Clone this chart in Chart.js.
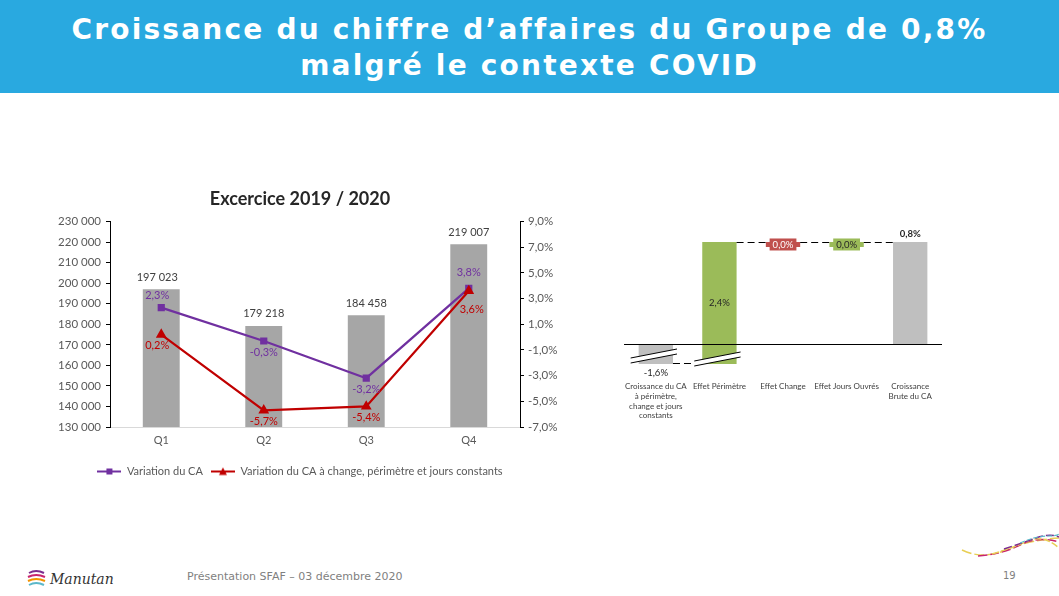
<!DOCTYPE html>
<html lang="fr">
<head>
<meta charset="utf-8">
<title>Croissance du chiffre d'affaires</title>
<script src="https://cdn.jsdelivr.net/npm/chart.js@4.4.1/dist/chart.umd.min.js"></script>
<style>
  html, body { margin: 0; padding: 0; width: 1059px; height: 596px; overflow: hidden; background: #fff; }
  body { position: relative; font-family: "DejaVu Sans", sans-serif; }
  #banner { position: absolute; left: 0; top: 0; width: 1059px; height: 93px; background: #29A9E0;
            color: #fff; text-align: center; font-size: 28px; font-weight: bold; letter-spacing: 2.2px;
            line-height: 36px; padding-top: 12px; box-sizing: border-box; }
  #leftChart { position: absolute; left: 40px; top: 180px; }
  #rightChart { position: absolute; left: 606px; top: 220px; }
  #footer { position: absolute; left: 187px; top: 570px; font-size: 11px; color: #7f7f7f; }
  #page { position: absolute; left: 1003px; top: 570px; font-size: 10px; color: #7f7f7f; }
  #logo { position: absolute; left: 26px; top: 566px; }
  #swoosh { position: absolute; left: 958px; top: 528px; }
</style>
</head>
<body>
<div id="banner">Croissance du chiffre d’affaires du Groupe de 0,8%<br>malgré le contexte COVID</div>

<canvas id="leftChart" width="520" height="307"></canvas>
<canvas id="rightChart" width="346" height="210"></canvas>

<svg id="logo" width="100" height="26">
  <path d="M3 7 Q10 3 18 7" stroke="#7B2D8E" stroke-width="2" fill="none"/>
  <path d="M2 11 Q10 7 19 11" stroke="#C8246E" stroke-width="2" fill="none"/>
  <path d="M2 15 Q10 11 19 15" stroke="#F39200" stroke-width="2" fill="none"/>
  <path d="M3 19 Q10 15 18 19" stroke="#5BB8C9" stroke-width="2" fill="none"/>
  <text x="24" y="18" font-family="DejaVu Serif" font-style="italic" font-size="14" fill="#333">Manutan</text>
</svg>
<svg id="swoosh" width="101" height="34">
  <path d="M4 22 Q25 32 48 22 T101 10" stroke="#E8CF55" stroke-width="1.5" fill="none" stroke-dasharray="10 3"/>
  <path d="M20 28 Q45 26 62 17 T101 14" stroke="#C8246E" stroke-width="1.5" fill="none" stroke-dasharray="9 3"/>
  <path d="M34 26 Q55 20 70 13 T101 20" stroke="#E8CF55" stroke-width="1.5" fill="none" stroke-dasharray="7 2"/>
  <path d="M46 21 Q64 15 78 10 T101 9" stroke="#7B2D8E" stroke-width="1.5" fill="none" stroke-dasharray="8 3"/>
  <path d="M62 15 Q78 8 90 8 T101 5" stroke="#5BB8C9" stroke-width="1.2" fill="none" stroke-dasharray="5 2"/>
</svg>

<div id="footer">Présentation SFAF – 03 décembre 2020</div>
<div id="page">19</div>

<script>
// Données - graphique de gauche
const quarters = ['Q1', 'Q2', 'Q3', 'Q4'];
const caValues = [197023, 179218, 184458, 219007];
const variationCA = [2.3, -0.3, -3.2, 3.8];
const variationConstant = [0.2, -5.7, -5.4, 3.6];
const caAxis = { min: 130000, max: 230000, step: 10000 };
const pctAxis = { min: -7, max: 9, step: 2 };

// Données - cascade de droite
const steps = [['Croissance du CA', 'à périmètre,', 'change et jours', 'constants'], 'Effet Périmètre', 'Effet Change', 'Effet Jours Ouvrés', ['Croissance', 'Brute du CA']];
const stepValues = [-1.6, 2.4, 0.0, 0.0, 0.8];
const stepKinds = ['total', 'delta', 'delta', 'delta', 'total'];

const fmtThousands = v => String(v).replace(/\B(?=(\d{3})+(?!\d))/g, ' ');
const fmtPct = v => v.toFixed(1).replace('.', ',') + '%';

//petite icône ligne + marqueur pour la légende
function legendIcon(color, shape) {
    const c = document.createElement('canvas');
    c.width = 24; c.height = 10;
    const g = c.getContext('2d');
    g.strokeStyle = color; g.fillStyle = color; g.lineWidth = 2;
    g.beginPath(); g.moveTo(0, 5); g.lineTo(24, 5); g.stroke();
    if (shape === 'rect') {
        g.fillRect(9, 2, 6, 6);
    } else {
        g.beginPath(); g.moveTo(12, 1); g.lineTo(16, 8.5); g.lineTo(8, 8.5); g.closePath(); g.fill();
    }
    return c;
}

// étiquettes de valeurs (pas de plugin datalabels disponible)
const pointLabels = {
    id: 'pointLabels',
    afterDatasetsDraw(chart) {
        const ctx = chart.ctx;
        ctx.save();
        ctx.textAlign = 'center';
        ctx.textBaseline = 'middle';
        chart.data.datasets.forEach((ds, i) => {
            const meta = chart.getDatasetMeta(i);
            if (!ds.labelPlace) return;
            ctx.font = '11px Lato';
            ctx.fillStyle = ds.labelColor;
            meta.data.forEach((el, j) => {
                const place = ds.labelPlace[j];
                let dy = place === 'up' ? -12 : place === 'down' ? 11 : place === 'far' ? 19 : -16;
                let dx = place === 'far' ? 3 : (j === 0 ? -4 : 0);
                const txt = ds.type === 'bar' ? fmtThousands(ds.data[j]) : fmtPct(ds.data[j]);
                ctx.fillText(txt, el.x + dx, el.y + dy);
            });
        });
        ctx.restore();
    }
};

let leftContext = document.getElementById('leftChart');
let leftChart = new Chart(leftContext, {
    type: 'bar',
    data: {
        labels: quarters,
        datasets: [
            {
                type: 'bar',
                label: "Chiffre d'affaires",
                data: caValues,
                backgroundColor: '#A6A6A6',
                barPercentage: 0.36,
                categoryPercentage: 1,
                yAxisID: 'y',
                order: 2,
                labelPlace: ['up', 'up', 'up', 'up'],
                labelColor: '#404040'
            },
            {
                type: 'line',
                label: 'Variation du CA',
                data: variationCA,
                borderColor: '#7030A0',
                backgroundColor: '#7030A0',
                borderWidth: 2.25,
                pointStyle: 'rect',
                pointRadius: 3.5,
                yAxisID: 'y1',
                order: 1,
                labelPlace: ['up', 'down', 'down', 'top'],
                labelColor: '#7030A0'
            },
            {
                type: 'line',
                label: 'Variation du CA à change, périmètre et jours constants',
                data: variationConstant,
                borderColor: '#C00000',
                backgroundColor: '#C00000',
                borderWidth: 2.25,
                pointStyle: 'triangle',
                pointRadius: 4,
                yAxisID: 'y1',
                order: 0,
                labelPlace: ['down', 'down', 'down', 'far'],
                labelColor: '#C00000'
            }
        ]
    },
    options: {
        responsive: false,
        animation: false,
        layout: { padding: 0 },
        plugins: {
            title: {
                display: true,
                text: 'Excercice 2019 / 2020',
                color: '#262626',
                font: { family: 'Lato', size: 18, weight: 'bold' },
                padding: { top: 8, bottom: 12 }
            },
            legend: {
                position: 'bottom',
                labels: {
                    usePointStyle: true,
                    pointStyleWidth: 24,
                    color: '#595959',
                    font: { family: 'Lato', size: 11 },
                    padding: 8,
                    filter: item => item.datasetIndex > 0,
                    sort: (a, b) => a.datasetIndex - b.datasetIndex,
                    generateLabels: chart => {
                        const items = Chart.defaults.plugins.legend.labels.generateLabels(chart);
                        items.forEach(item => {
                            if (item.datasetIndex === 1) item.pointStyle = legendIcon('#7030A0', 'rect');
                            if (item.datasetIndex === 2) item.pointStyle = legendIcon('#C00000', 'tri');
                        });
                        return items;
                    }
                }
            },
            tooltip: { enabled: false }
        },
        scales: {
            x: {
                grid: { display: false, drawTicks: false },
                border: { color: '#D9D9D9' },
                ticks: { color: '#595959', font: { family: 'Lato', size: 11 }, padding: 7 },
                afterFit: s => { s.height = 31; }
            },
            y: {
                position: 'left',
                min: caAxis.min,
                max: caAxis.max,
                ticks: { stepSize: caAxis.step, color: '#595959', font: { family: 'Lato', size: 11.5 }, padding: 5, callback: v => fmtThousands(v) },
                grid: { drawOnChartArea: false, tickLength: 4, color: '#000' },
                border: { color: '#000' },
                afterFit: s => { s.width = 70; }
            },
            y1: {
                position: 'right',
                min: pctAxis.min,
                max: pctAxis.max,
                ticks: { stepSize: pctAxis.step, color: '#595959', font: { family: 'Lato', size: 11.5 }, padding: 4, callback: v => fmtPct(v) },
                grid: { drawOnChartArea: false, tickLength: 4, color: '#000' },
                border: { color: '#000' },
                afterFit: s => { s.width = 40; }
            }
        }
    },
    plugins: [pointLabels]
});

// Cascade : barres flottantes calculées à partir des effets
let running = 0;
const stepRanges = stepValues.map((v, i) => {
    if (stepKinds[i] === 'total') { running = v; return [0, v]; }
    const r = [running, running + v];
    running += v;
    return r;
});
const stepColors = ['#BFBFBF', '#9BBB59', '#C0504D', '#9BBB59', '#BFBFBF'];
const stepLabelModes = ['below', 'inside', 'badge', 'badge', 'above'];

const waterfallDecor = {
    id: 'waterfallDecor',
    afterDatasetsDraw(chart) {
        const ctx = chart.ctx;
        const area = chart.chartArea;
        const yScale = chart.scales.y;
        const meta = chart.getDatasetMeta(0);
        const clampY = v => Math.min(area.bottom - 1, Math.max(area.top, yScale.getPixelForValue(v)));
        ctx.save();
        // ligne de base
        ctx.strokeStyle = '#000'; ctx.lineWidth = 1;
        const y0 = Math.round(yScale.getPixelForValue(0)) + 0.5;
        ctx.beginPath(); ctx.moveTo(area.left, y0); ctx.lineTo(area.right, y0); ctx.stroke();
        // connecteurs pointillés
        ctx.setLineDash([7, 4]);
        for (let i = 0; i < meta.data.length - 1; i++) {
            const a = meta.data[i], b = meta.data[i + 1];
            const y = Math.round(clampY(stepRanges[i][1])) + 0.5;
            ctx.beginPath(); ctx.moveTo(a.x + a.width / 2, y); ctx.lineTo(b.x - b.width / 2, y); ctx.stroke();
        }
        ctx.setLineDash([]);
        // ruptures d'échelle sur les deux premières barres
        [0, 1].forEach(i => {
            const el = meta.data[i];
            const l = el.x - el.width / 2 - 8, r = el.x + el.width / 2 + 4;
            const yb = area.bottom - (i === 0 ? 6 : 3);
            ctx.fillStyle = '#fff';
            ctx.beginPath();
            ctx.moveTo(l, yb); ctx.lineTo(r, yb - 9); ctx.lineTo(r, yb - 4); ctx.lineTo(l, yb + 5); ctx.closePath();
            ctx.fill();
            ctx.beginPath();
            ctx.moveTo(l, yb); ctx.lineTo(r, yb - 9);
            ctx.moveTo(l, yb + 5); ctx.lineTo(r, yb - 4);
            ctx.stroke();
        });
        // étiquettes
        ctx.textAlign = 'center';
        ctx.textBaseline = 'middle';
        meta.data.forEach((el, i) => {
            const txt = fmtPct(stepValues[i]);
            const top = Math.max(area.top, Math.min(el.y, el.base));
            const bottom = Math.min(area.bottom, Math.max(el.y, el.base));
            ctx.font = '9.5px Lato';
            ctx.fillStyle = '#262626';
            const mode = stepLabelModes[i];
            if (mode === 'below') {
                ctx.fillText(txt, el.x, area.bottom + 9);
            } else if (mode === 'inside') {
                ctx.fillText(txt, el.x, (top + bottom) / 2);
            } else if (mode === 'above') {
                ctx.font = 'bold 9.5px Lato';
                ctx.fillText(txt, el.x, top - 8);
            } else {
                const w = ctx.measureText(txt).width + 6;
                ctx.fillStyle = stepColors[i];
                ctx.fillRect(el.x - w / 2, (top + bottom) / 2 - 6, w, 12);
                ctx.fillStyle = stepColors[i] === '#C0504D' ? '#fff' : '#262626';
                ctx.fillText(txt, el.x, (top + bottom) / 2 + 0.5);
            }
        });
        ctx.restore();
    }
};

let rightContext = document.getElementById('rightChart');
let rightChart = new Chart(rightContext, {
    type: 'bar',
    data: {
        labels: steps,
        datasets: [{
            data: stepRanges,
            backgroundColor: stepColors,
            barPercentage: 0.54,
            categoryPercentage: 1,
            minBarLength: 5,
            clip: 0
        }]
    },
    options: {
        responsive: false,
        animation: false,
        layout: { padding: { left: 10, right: 10, top: 10, bottom: 0 } },
        plugins: { legend: { display: false }, tooltip: { enabled: false } },
        scales: {
            x: {
                grid: { display: false, drawTicks: false },
                border: { display: false },
                ticks: { color: '#404040', font: { family: 'Lato', size: 8 }, padding: 18, autoSkip: false, maxRotation: 0 },
                afterFit: s => { s.height = 66; }
            },
            y: {
                display: false,
                min: -0.157,
                max: 0.894
            }
        }
    },
    plugins: [waterfallDecor]
});
</script>
</body>
</html>
